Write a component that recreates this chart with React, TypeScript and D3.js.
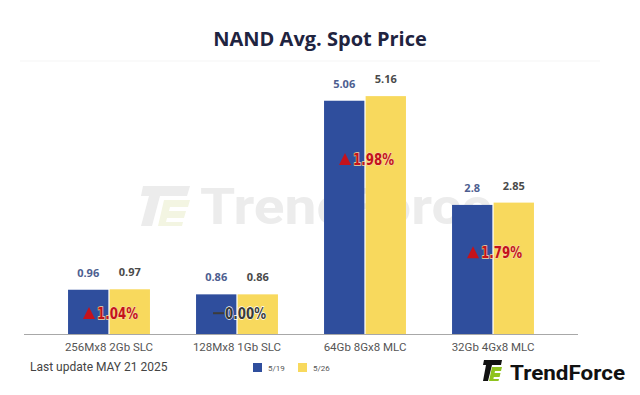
import React from "react";
import * as d3 from "d3";

const categories = ["256Mx8 2Gb SLC", "128Mx8 1Gb SLC", "64Gb 8Gx8 MLC", "32Gb 4Gx8 MLC"];
const seriesNames = ["5/19", "5/26"];
const values519 = [0.96, 0.86, 5.06, 2.8];
const values526 = [0.97, 0.86, 5.16, 2.85];
const changes = ["1.04%", "0.00%", "1.98%", "1.79%"];
const changeDir = ["up", "flat", "up", "up"];

const W = 640;
const H = 395;
const colors = ["#2f4e9d", "#f8d95d"];
const labelColors = ["#4d5e90", "#4a4a4a"];
// vertical placement of change labels, as fraction of the taller bar
const changeFrac = [0.49, 0.55, 0.74, 0.63];

export default function App() {
  const x = d3.scaleBand<string>().domain(categories).range([45, 557]).paddingInner(0.36).paddingOuter(0.18);
  const x1 = d3.scaleBand<string>().domain(seriesNames).range([0, x.bandwidth()]).paddingInner(0.03);
  const y = d3.scaleLinear().domain([0, 6]).range([334, 334 - 46.1 * 6]);
  const series = [values519, values526];

  return (
    <svg width={W} height={H} style={{ position: "absolute", left: 0, top: 0, background: "#fff" }}>
      <rect width={W} height={H} fill="#fff" />
      <text x={320} y={46} textAnchor="middle" fontFamily="Open Sans" fontWeight={700} fontSize={20} fill="#1f2440">
        NAND Avg. Spot Price
      </text>
      <line x1={20} x2={600} y1={61} y2={61} stroke="#f5f5f5" strokeWidth={1} />

      {/* watermark */}
      <g>
        <path d="M143,186 L190,186 L187,196 L160,196 L152,226 L141,226 L149,196 L141,196 Z" fill="#ececec" />
        <path d="M164,200 L190,200 L188,207 L170,207 L169,211 L186,211 L184,218 L167,218 L166,222 L183,222 L182,226 L158,226 Z" fill="#f3f5e2" />
        <text x={200} y={224} fontFamily="Roboto" fontWeight={700} fontSize={50} fill="#ececec" textLength={292} lengthAdjust="spacingAndGlyphs">
          TrendForce
        </text>
      </g>

      {categories.map((c, i) => (
        <g key={c}>
          {series.map((vals, s) => {
            const bx = (x(c) as number) + (x1(seriesNames[s]) as number);
            const bw = x1.bandwidth();
            return (
              <g key={s}>
                <rect x={bx} y={y(vals[i])} width={bw} height={y(0) - y(vals[i])} fill={colors[s]} />
                <text
                  x={bx + bw / 2}
                  y={y(vals[i]) - 13}
                  textAnchor="middle"
                  fontFamily="Open Sans"
                  fontWeight={700}
                  fontSize={11}
                  fill={labelColors[s]}
                >
                  {vals[i]}
                </text>
              </g>
            );
          })}
          {(() => {
            const cx = (x(c) as number) + x.bandwidth() / 2;
            const top = Math.max(values519[i], values526[i]);
            const cy = y(top * changeFrac[i]) + 7;
            const up = changeDir[i] === "up";
            return (
              <g>
                {up ? (
                  <path d={`M${cx - 26},${cy} L${cx - 20},${cy - 12} L${cx - 14},${cy} Z`} fill="#c5121b" />
                ) : (
                  <rect x={cx - 24} y={cy - 7} width={11} height={2} fill="#3c3c3c" />
                )}
                <text
                  x={cx - 12}
                  y={cy}
                  fontFamily="DejaVu Sans"
                  fontWeight={700}
                  fontSize={15}
                  fill={up ? "#c5121b" : "#3a3a3a"}
                  stroke={up ? "#f3d7a0" : "#ffffff"}
                  strokeWidth={1.4}
                  style={{ paintOrder: "stroke" }}
                  textLength={41}
                  lengthAdjust="spacingAndGlyphs"
                >
                  {changes[i]}
                </text>
              </g>
            );
          })()}
          <text
            x={(x(c) as number) + x.bandwidth() / 2}
            y={351}
            textAnchor="middle"
            fontFamily="Roboto"
            fontSize={11.5}
            fill="#555"
          >
            {c}
          </text>
        </g>
      ))}

      <line x1={24} x2={578} y1={334.5} y2={334.5} stroke="#a8a8a8" strokeWidth={1} />

      <text x={30} y={371} fontFamily="Roboto" fontSize={12} fill="#444">
        Last update MAY 21 2025
      </text>

      {seriesNames.map((s, i) => (
        <g key={s}>
          <rect x={253 + i * 45} y={363} width={9} height={9} fill={colors[i]} />
          <text x={268 + i * 45} y={371} fontFamily="Roboto" fontSize={8} fill="#555">
            {s}
          </text>
        </g>
      ))}

      {/* logo */}
      <g>
        <path d="M484,360 L502,360 L501,365 L492,365 L488,381 L483,381 L486,365 L483,365 Z" fill="#111" />
        <path d="M492,367 L502,367 L501,371 L495,371 L494.6,373 L500.5,373 L499.6,377 L493.8,377 L493.4,379 L499,379 L498.5,381 L489,381 Z" fill="#8fc31f" />
        <text x={510} y={380} fontFamily="Roboto" fontWeight={700} fontSize={20} fill="#111" textLength={115} lengthAdjust="spacingAndGlyphs">
          TrendForce
        </text>
      </g>
    </svg>
  );
}
